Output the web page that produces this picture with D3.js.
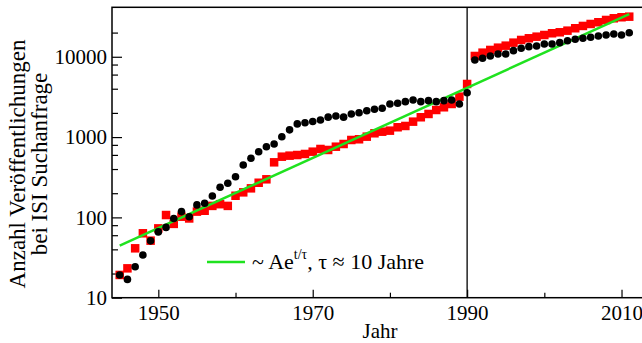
<!DOCTYPE html>
<html>
<head>
<meta charset="utf-8">
<script src="https://cdn.jsdelivr.net/npm/d3@7"></script>
<style>
  html, body { margin: 0; padding: 0; background: #fff; }
  svg { display: block; }
  svg text { font-family: "Liberation Serif", "Times New Roman", serif; fill: #000; }
</style>
</head>
<body>
<svg id="chart" width="642" height="343"></svg>
<script>
// ---- data ----
const years = d3.range(1945, 2012);
const blackValues = [
  19.2, 16.9, 24.3, 34, 51, 66, 75, 97, 118, 102,
  143, 150, 185, 237, 266, 321, 450, 545, 658, 759,
  820, 1010, 1230, 1460, 1510, 1560, 1630, 1770, 1830, 1770,
  1940, 2010, 2130, 2220, 2290, 2580, 2640, 2760, 2900, 2760,
  2840, 2760, 2840, 2900, 2580, 3570, 9120, 9580, 10230, 10840,
  10840, 11910, 12760, 13360, 13620, 14420, 14420, 14990, 15850, 16510,
  16990, 17500, 18160, 18670, 19230, 18670, 19950
];
const redValues = [
  19.2, 23.2, 41.2, 63.4, 51.3, 73, 107, 83, 102, 97,
  118, 121, 139, 146, 139, 186, 205, 230, 270, 298,
  485, 570, 587, 598, 616, 658, 711, 691, 759, 820,
  920, 939, 1012, 1115, 1167, 1202, 1325, 1375, 1556, 1765,
  1940, 2174, 2350, 2582, 3184, 4583, 10230, 11250, 12160, 12980,
  13750, 14990, 16190, 16990, 17790, 18670, 19620, 20180, 21140, 22650,
  24200, 25600, 26900, 28720, 30150, 31050, 31570
];
const fitYears = [1945, 2011];
const fitValues = [44.5, 34000];
const xMajorTicks = [1950, 1970, 1990, 2010];
const xMinorTicks = [1960, 1980, 2000];
const yMajorTicks = [10, 100, 1000, 10000];
const yMinorTicks = [20, 40, 60, 80, 200, 400, 600, 800, 2000, 4000, 6000, 8000, 20000];
const markerYear = 1990;
const legendLabel = ["~ Ae", "t/τ", ", τ ≈ 10 Jahre"];
const xTitle = "Jahr";
const yTitle = ["Anzahl Veröffentlichungen", "bei ISI Suchanfrage"];

// ---- layout ----
const FONT = "Liberation Serif";
const L = 112, T = 7.3, B = 297.7, R = 652.4;
const svg = d3.select("#chart");
const x = d3.scaleLinear().domain([1944, 2014]).range([L, R]);
const y = d3.scaleLog().domain([10, 41300]).range([B, T]);
const FS = 21;

svg.append("clipPath").attr("id", "clip")
  .append("rect").attr("x", L).attr("y", T).attr("width", R - L).attr("height", B - T);

// axes (ticks pointing inward)
const gx = svg.append("g").attr("transform", `translate(0,${B})`)
  .call(d3.axisBottom(x).tickValues(xMajorTicks).tickFormat(d3.format("d")).tickSize(-8).tickPadding(7));
const gxm = svg.append("g").attr("transform", `translate(0,${B})`)
  .call(d3.axisBottom(x).tickValues(xMinorTicks).tickFormat("").tickSize(-5));
const gy = svg.append("g").attr("transform", `translate(${L},0)`)
  .call(d3.axisLeft(y).tickValues(yMajorTicks).tickFormat(d3.format("d")).tickSize(-10).tickPadding(5));
const gym = svg.append("g").attr("transform", `translate(${L},0)`)
  .call(d3.axisLeft(y).tickValues(yMinorTicks).tickFormat("").tickSize(-6));
[gx, gxm, gy, gym].forEach(g => {
  g.attr("font-family", FONT);
  g.select(".domain").remove();
  g.selectAll(".tick line").attr("stroke", "#000").attr("stroke-width", 1.2);
  g.selectAll("text").attr("font-size", FS).attr("font-family", FONT).attr("fill", "#000");
});

// plot area content
const plot = svg.append("g").attr("clip-path", "url(#clip)");

// vertical marker line at 1990
plot.append("line")
  .attr("x1", x(markerYear)).attr("x2", x(markerYear))
  .attr("y1", T).attr("y2", B)
  .attr("stroke", "#000").attr("stroke-width", 1.3);

// red squares
const S = 8.5;
plot.append("g").selectAll("rect").data(years.map((yr, i) => [yr, redValues[i]]))
  .join("rect")
  .attr("x", d => x(d[0]) - S / 2).attr("y", d => y(d[1]) - S / 2)
  .attr("width", S).attr("height", S)
  .attr("fill", "#ff0000");

// fit line
plot.append("path")
  .datum(fitYears.map((yr, i) => [yr, fitValues[i]]))
  .attr("d", d3.line().x(d => x(d[0])).y(d => y(d[1])))
  .attr("fill", "none").attr("stroke", "#1fe21f").attr("stroke-width", 2.5);

// black circles
plot.append("g").selectAll("circle").data(years.map((yr, i) => [yr, blackValues[i]]))
  .join("circle")
  .attr("cx", d => x(d[0])).attr("cy", d => y(d[1])).attr("r", 3.8)
  .attr("fill", "#000");

// frame
svg.append("rect").attr("x", L).attr("y", T).attr("width", R - L).attr("height", B - T)
  .attr("fill", "none").attr("stroke", "#000").attr("stroke-width", 1.5);

// legend
const lgY = 262;
svg.append("line").attr("x1", 207).attr("x2", 245).attr("y1", lgY).attr("y2", lgY)
  .attr("stroke", "#1fe21f").attr("stroke-width", 2.5);
const lt = svg.append("text").attr("x", 252).attr("y", lgY + 7)
  .attr("font-family", FONT).attr("font-size", 22);
lt.append("tspan").text(legendLabel[0]);
lt.append("tspan").attr("font-size", 14).attr("dy", -10).text(legendLabel[1]);
lt.append("tspan").attr("dy", 10).text(legendLabel[2]);

// axis titles
svg.append("text").attr("x", 380).attr("y", 338).attr("text-anchor", "middle")
  .attr("font-family", FONT).attr("font-size", FS).text(xTitle);
const yt = svg.append("text").attr("transform", "translate(25,164) rotate(-90)")
  .attr("text-anchor", "middle").attr("font-family", FONT).attr("font-size", 23);
yt.append("tspan").attr("x", 0).attr("dy", 0).text(yTitle[0]);
yt.append("tspan").attr("x", 0).attr("dy", 22).text(yTitle[1]);
</script>
</body>
</html>
